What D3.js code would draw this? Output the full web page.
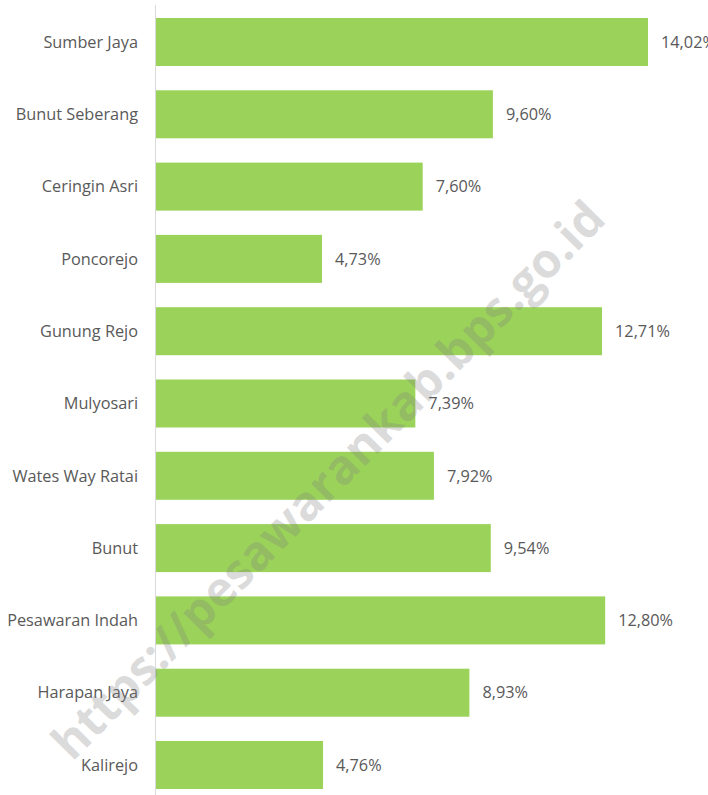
<!DOCTYPE html>
<html>
<head>
<meta charset="utf-8">
<script src="https://cdn.jsdelivr.net/npm/d3@7"></script>
<style>
  body { margin: 0; background: #ffffff; }
  svg { display: block; }
</style>
</head>
<body>
<div id="chart"></div>
<script>
const categories = ["Sumber Jaya", "Bunut Seberang", "Ceringin Asri", "Poncorejo", "Gunung Rejo",
	"Mulyosari", "Wates Way Ratai", "Bunut", "Pesawaran Indah", "Harapan Jaya", "Kalirejo"];
const values = [14.02, 9.60, 7.60, 4.73, 12.71, 7.39, 7.92, 9.54, 12.80, 8.93, 4.76];
const watermark = "https://pesawarankab.bps.go.id";

const width = 708, height = 795;
const left = 156;
const fmt = v => d3.format(".2f")(v).replace(".", ",") + "%";

const svg = d3.select("#chart")
	.append("svg")
	.attr("width", width)
	.attr("height", height);

const x = d3.scaleLinear().domain([0, 14.02]).range([left, 648]);
const y = d3.scaleBand()
	.domain(categories)
	.range([5.85, 801.15])
	.paddingInner(0.336)
	.paddingOuter(0.168);

// bars
svg.selectAll(".bar")
	.data(values)
	.enter()
	.append("rect")
	.attr("class", "bar")
	.attr("fill", "#9bd35a")
	.attr("x", x(0))
	.attr("y", (d, i) => y(categories[i]))
	.attr("width", d => x(d) - x(0))
	.attr("height", y.bandwidth());

// vertical axis line
svg.append("line")
	.attr("x1", left - 0.5).attr("x2", left - 0.5)
	.attr("y1", 5).attr("y2", height)
	.attr("stroke", "#d9d9d9")
	.attr("stroke-width", 1);

// category labels
svg.selectAll(".cat")
	.data(categories)
	.enter()
	.append("text")
	.attr("class", "cat")
	.attr("x", 138)
	.attr("y", d => y(d) + y.bandwidth() / 2)
	.attr("dy", "0.35em")
	.style("text-anchor", "end")
	.style("font-family", "'Open Sans', sans-serif")
	.style("font-size", "16.3px")
	.style("fill", "#595959")
	.text(d => d);

// value labels (first one runs off the right edge, as in the original)
svg.selectAll(".val")
	.data(values)
	.enter()
	.append("text")
	.attr("class", "val")
	.attr("x", d => x(d) + 13)
	.attr("y", (d, i) => y(categories[i]) + y.bandwidth() / 2)
	.attr("dy", "0.35em")
	.style("font-family", "'Open Sans', sans-serif")
	.style("font-size", "16.3px")
	.style("fill", "#595959")
	.text(d => fmt(d));

// watermark
svg.append("text")
	.attr("transform", "translate(328,480) rotate(-45.3)")
	.style("text-anchor", "middle")
	.attr("dy", "0.35em")
	.style("font-family", "'Open Sans', sans-serif")
	.style("font-weight", "bold")
	.style("font-size", "48px")
	.style("fill", "#808080")
	.style("fill-opacity", 0.28)
	.text(watermark);
</script>
</body>
</html>
